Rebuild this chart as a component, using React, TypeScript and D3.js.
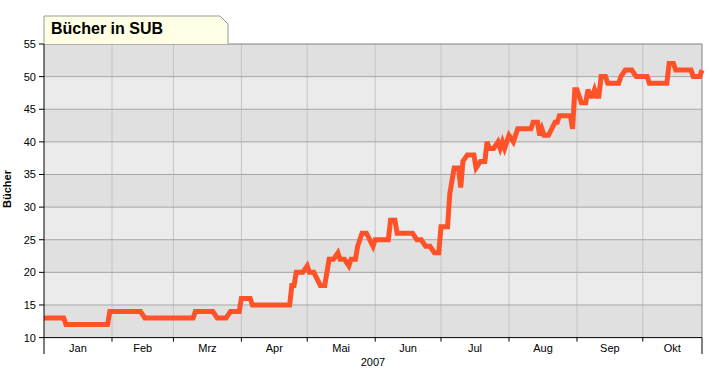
import React from "react";
import * as d3 from "d3";

const dates = [
  "2007-01-01","2007-01-10","2007-01-11","2007-01-30","2007-01-31","2007-02-14","2007-02-16",
  "2007-03-10","2007-03-11","2007-03-19","2007-03-21","2007-03-25","2007-03-27","2007-03-31",
  "2007-04-01","2007-04-05","2007-04-06","2007-04-23","2007-04-24","2007-04-25","2007-04-26",
  "2007-04-29","2007-05-01","2007-05-02","2007-05-04","2007-05-07","2007-05-09","2007-05-11",
  "2007-05-13","2007-05-15","2007-05-16","2007-05-18","2007-05-20","2007-05-21","2007-05-23",
  "2007-05-24","2007-05-26","2007-05-28","2007-05-31","2007-06-01","2007-06-07","2007-06-08",
  "2007-06-10","2007-06-11","2007-06-18","2007-06-20","2007-06-22","2007-06-24","2007-06-26",
  "2007-06-28","2007-06-30","2007-07-01","2007-07-04","2007-07-05","2007-07-06","2007-07-07",
  "2007-07-09","2007-07-10","2007-07-11","2007-07-13","2007-07-16","2007-07-17","2007-07-19",
  "2007-07-21","2007-07-22","2007-07-23","2007-07-25","2007-07-27","2007-07-28","2007-07-29",
  "2007-07-30","2007-08-01","2007-08-03","2007-08-05","2007-08-11","2007-08-12","2007-08-14",
  "2007-08-15","2007-08-16","2007-08-17","2007-08-19","2007-08-22","2007-08-23","2007-08-24",
  "2007-08-29","2007-08-30","2007-08-31","2007-09-01","2007-09-02","2007-09-03","2007-09-05",
  "2007-09-06","2007-09-07","2007-09-08","2007-09-09","2007-09-10","2007-09-11","2007-09-12",
  "2007-09-14","2007-09-15","2007-09-20","2007-09-21","2007-09-23","2007-09-26","2007-09-28",
  "2007-10-03","2007-10-04","2007-10-12","2007-10-13","2007-10-15","2007-10-16","2007-10-23",
  "2007-10-24","2007-10-27","2007-10-28"
];

const values = [
  13,13,12,12,14,14,13,
  13,14,14,13,13,14,14,
  16,16,15,15,18,18,20,
  20,21,20,20,18,18,22,
  22,23,22,22,21,22,22,
  24,26,26,24,25,25,28,
  28,26,26,25,25,24,24,
  23,23,27,27,32,34,36,
  36,33,37,38,38,36,37,
  37,40,39,39,40,39,40,
  39,41,40,42,42,43,43,
  41,42,41,41,43,43,44,
  44,42,48,48,47,46,46,
  48,47,47,48,47,47,50,
  50,49,49,50,51,51,50,
  50,49,49,52,52,51,51,
  50,50,51
];

const yTicks = [10, 15, 20, 25, 30, 35, 40, 45, 50, 55];
const monthLabels = ["Jan", "Feb", "Mrz", "Apr", "Mai", "Jun", "Jul", "Aug", "Sep", "Okt"];
const yearLabel = "2007";
const title = "Bücher in SUB";
const yTitle = "Bücher";

const W = 721, H = 371;
const left = 44, right = 702, top = 44, bottom = 337.6;
const FONT = "'Liberation Sans', Arial, sans-serif";

export default function App() {
  const parse = d3.timeParse("%Y-%m-%d");
  const data = dates.map((d, i) => ({ date: parse(d) as Date, value: values[i] }));
  const start = new Date(2007, 0, 1);
  const end = new Date(2007, 9, 28);
  const x = d3.scaleTime().domain([start, end]).range([left, right]);
  const y = d3.scaleLinear().domain([10, 55]).range([bottom, top]);

  const monthStarts = d3.timeMonth.range(start, end);
  const monthBounds = monthStarts.map((m) => x(m));
  const line = d3
    .line<{ date: Date; value: number }>()
    .x((d) => x(d.date))
    .y((d) => y(d.value));

  const bands = yTicks.slice(0, -1).map((t, i) => ({ lo: t, hi: yTicks[i + 1], dark: i % 2 === 0 }));

  return (
    <svg width={W} height={H} style={{ position: "absolute", left: 0, top: 0, background: "#fff" }}>
      {/* bands */}
      {bands.map((b, i) => (
        <rect key={i} x={left} y={y(b.hi)} width={right - left} height={y(b.lo) - y(b.hi)}
          fill={b.dark ? "#e0e0e0" : "#ebebeb"} />
      ))}
      {/* vertical grid */}
      {monthBounds.slice(1).map((mx, i) => (
        <line key={i} x1={mx} x2={mx} y1={top} y2={bottom} stroke="#c4c4c4" strokeWidth={1} />
      ))}
      {/* horizontal grid */}
      {yTicks.slice(1, -1).map((t) => (
        <line key={t} x1={left} x2={right} y1={y(t)} y2={y(t)} stroke="#a6a6a6" strokeWidth={1} />
      ))}
      {/* frame top/right */}
      <line x1={left} x2={right} y1={top} y2={top} stroke="#808080" />
      <line x1={right} x2={right} y1={top} y2={bottom} stroke="#808080" />
      {/* data line */}
      <path d={line(data) || ""} fill="none" stroke="#ff5229" strokeWidth={5}
        strokeLinejoin="miter" strokeMiterlimit={4} />
      {/* axes */}
      <line x1={left} x2={left} y1={top} y2={354} stroke="#000" />
      <line x1={left} x2={right} y1={bottom} y2={bottom} stroke="#000" />
      <line x1={right} x2={right} y1={bottom} y2={354} stroke="#000" />
      {yTicks.map((t) => (
        <g key={t}>
          <line x1={left - 5} x2={left} y1={y(t)} y2={y(t)} stroke="#000" />
          <text x={left - 8} y={y(t) + 4} textAnchor="end" fontFamily={FONT} fontSize={11} fill="#000">{t}</text>
        </g>
      ))}
      {monthStarts.map((m, i) => {
        const x0 = x(m);
        const next = i + 1 < monthStarts.length ? x(monthStarts[i + 1]) : right;
        return (
          <g key={i}>
            {i > 0 && <line x1={x0} x2={x0} y1={bottom} y2={bottom + 4} stroke="#000" />}
            <text x={(x0 + next) / 2} y={352} textAnchor="middle" fontFamily={FONT} fontSize={11} fill="#000">
              {monthLabels[i]}
            </text>
          </g>
        );
      })}
      <text x={(left + right) / 2} y={366} textAnchor="middle" fontFamily={FONT} fontSize={11} fill="#000">{yearLabel}</text>
      {/* y title */}
      <text transform={`translate(11,189) rotate(-90)`} textAnchor="middle" fontFamily={FONT} fontSize={11}
        fontWeight="bold" fill="#000">{yTitle}</text>
      {/* title tab */}
      <path d={`M${left},${top} L${left},16 L220,16 L228,24 L228,${top}`} fill="#ffffe6" stroke="#999" strokeWidth={1} />
      <text x={51} y={34} fontFamily={FONT} fontSize={16} fontWeight="bold" fill="#000">{title}</text>
    </svg>
  );
}
